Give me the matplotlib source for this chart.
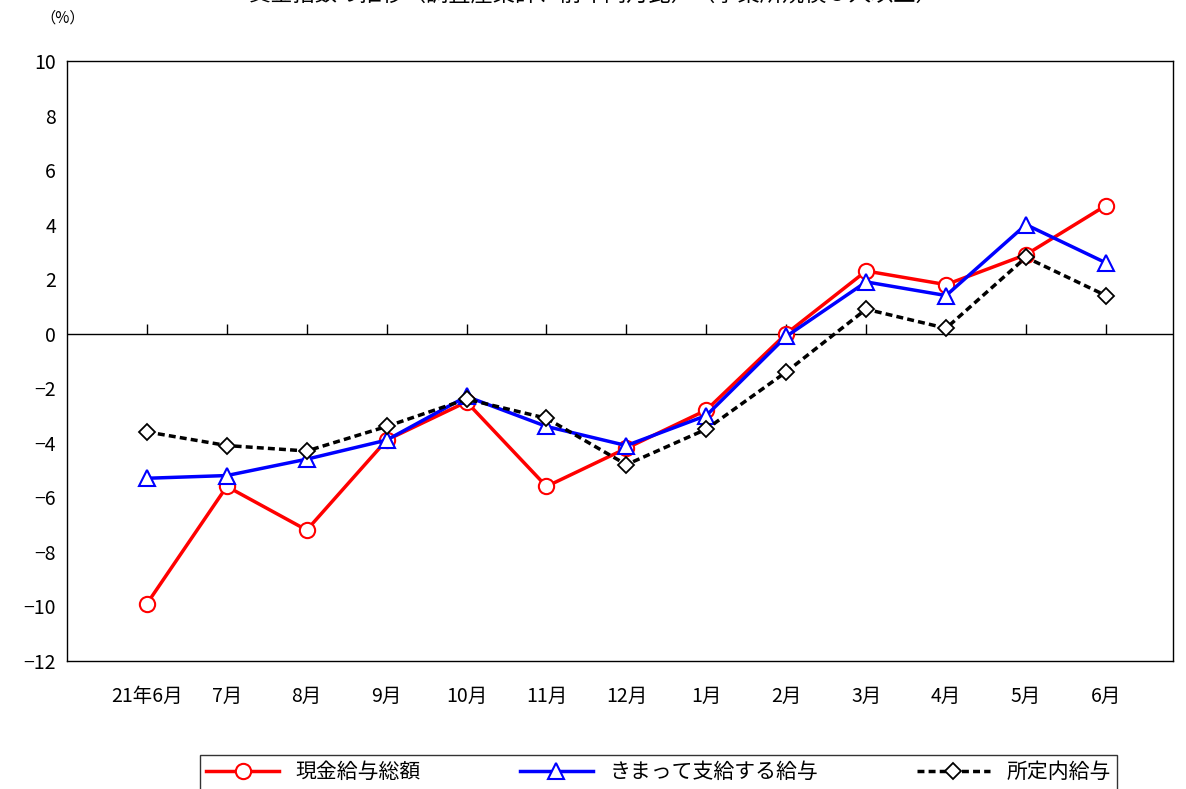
import matplotlib
matplotlib.use("Agg")
import matplotlib.pyplot as plt

plt.rcParams['font.family'] = ['Noto Sans CJK JP', 'DejaVu Sans']

months = ["21年6月", "7月", "8月", "9月", "10月", "11月", "12月", "1月", "2月", "3月", "4月", "5月", "6月"]
total = [-9.9, -5.6, -7.2, -3.9, -2.5, -5.6, -4.2, -2.8, 0.0, 2.3, 1.8, 2.9, 4.7]
regular = [-5.3, -5.2, -4.6, -3.9, -2.3, -3.4, -4.1, -3.0, -0.1, 1.9, 1.4, 4.0, 2.6]
scheduled = [-3.6, -4.1, -4.3, -3.4, -2.4, -3.1, -4.8, -3.5, -1.4, 0.9, 0.2, 2.8, 1.4]
names = ["現金給与総額", "きまって支給する給与", "所定内給与"]

fig = plt.figure(figsize=(11.86, 7.89), dpi=100)
ax = fig.add_axes([67/1186, 1-661/789, (1173-67)/1186, 600/789])
x = list(range(len(months)))
ax.plot(x, total, color='#ff0000', lw=2.5, marker='o', ms=11, mfc='white', mec='#ff0000', mew=1.5, label=names[0], zorder=3)
ax.plot(x, regular, color='#0000ff', lw=2.5, marker='^', ms=11, mfc='white', mec='#0000ff', mew=1.5, label=names[1], zorder=4)
ax.plot(x, scheduled, color='black', lw=2.5, ls=(0, (2, 1.2)), marker='D', ms=8, mfc='white', mec='black', mew=1.3, label=names[2], zorder=5)
ax.axhline(0, color='black', lw=1)
ax.vlines(x, 0, 0.35, color='black', lw=1)
ax.set_xlim(-1, 12.84)
ax.set_ylim(-12, 10)
ax.set_yticks(range(-12, 11, 2))
ax.set_yticklabels([str(v).replace('-', '−') for v in range(-12, 11, 2)], fontsize=14)
ax.set_xticks(x)
ax.set_xticklabels(months, fontsize=14)
ax.tick_params(axis='x', length=0, pad=18)
ax.tick_params(axis='y', direction='in', length=0, pad=8)
for s in ax.spines.values():
    s.set_linewidth(1)
fig.text(40/1186, 1-18/789, "（%）", fontsize=11, ha='left', va='center')
fig.text(0.5, 1-(-6)/789, "賃金指数の推移（調査産業計、前年同月比）（事業所規模５人以上）", fontsize=16, ha='center', va='center')
leg = fig.legend(loc='upper left', bbox_to_anchor=(200/1186, 1-755/789 - 0.1, 917/1186, 0.1), mode='expand',
                 ncol=3, fontsize=15, frameon=True, fancybox=False, edgecolor='black', handlelength=3.5,
                 borderpad=0.3, borderaxespad=0)
leg.get_frame().set_linewidth(1)
fig.savefig("out.png", dpi=100)
